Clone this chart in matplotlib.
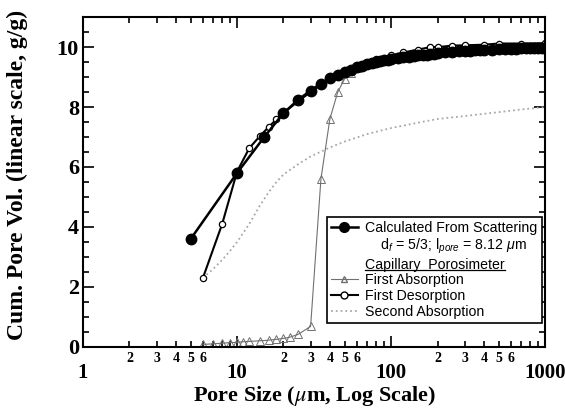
import matplotlib
matplotlib.use("Agg")
import matplotlib.pyplot as plt
from matplotlib.lines import Line2D
from matplotlib.ticker import FixedLocator, FixedFormatter, MultipleLocator

plt.rcParams['font.family'] = ['Liberation Serif', 'DejaVu Serif']
plt.rcParams['mathtext.fontset'] = 'custom'
plt.rcParams['mathtext.rm'] = 'Liberation Sans'
plt.rcParams['mathtext.it'] = 'Liberation Sans:italic'

# calculated from scattering (d_f = 5/3, l_pore = 8.12 um)
scat_x = [5, 10, 15, 20, 25, 30, 35, 40, 45, 50, 55, 60, 65, 70, 75, 80, 85, 90, 95, 100,
          110, 120, 130, 140, 150, 160, 170, 180, 190, 200, 225, 250, 275, 300, 325, 350,
          375, 400, 450, 500, 550, 600, 650, 700, 750, 800, 850, 900, 950, 1000]
scat_y = [3.6, 5.8, 7.0, 7.8, 8.25, 8.55, 8.78, 8.96, 9.07, 9.17, 9.25, 9.32, 9.37, 9.42,
          9.46, 9.5, 9.53, 9.56, 9.58, 9.6, 9.63, 9.66, 9.68, 9.7, 9.72, 9.74, 9.75, 9.77,
          9.78, 9.79, 9.82, 9.84, 9.86, 9.87, 9.88, 9.89, 9.9, 9.91, 9.92, 9.93, 9.94, 9.95,
          9.95, 9.96, 9.96, 9.97, 9.97, 9.97, 9.98, 9.98]

# capillary porosimeter
abs1_x = [6, 7, 8, 9, 10, 11, 12, 14, 16, 18, 20, 22, 25, 30, 35, 40, 45, 50, 55, 60,
          80, 100, 150, 200, 300, 500, 1000]
abs1_y = [0.08, 0.1, 0.12, 0.14, 0.15, 0.17, 0.18, 0.2, 0.22, 0.25, 0.28, 0.32, 0.42, 0.68,
          5.6, 7.6, 8.5, 8.95, 9.15, 9.3, 9.55, 9.7, 9.85, 9.9, 9.95, 10.0, 10.05]

des_x = [6, 8, 10, 12, 14, 16, 18, 20, 25, 30, 35, 40, 50, 60, 70, 80, 100, 120, 150,
         180, 200, 250, 300, 400, 500, 700, 1000]
des_y = [2.3, 4.1, 5.85, 6.63, 7.02, 7.33, 7.59, 7.8, 8.2, 8.5, 8.75, 8.95, 9.2, 9.35,
         9.48, 9.6, 9.72, 9.82, 9.92, 10.0, 10.0, 10.05, 10.06, 10.08, 10.12, 10.12, 10.13]

abs2_x = [6, 7, 8, 9, 10, 12, 14, 16, 18, 20, 25, 30, 40, 50, 70, 100, 150, 200, 300,
          500, 700, 1000]
abs2_y = [2.3, 2.6, 2.9, 3.2, 3.5, 4.1, 4.7, 5.15, 5.5, 5.75, 6.1, 6.35, 6.65, 6.85, 7.1,
          7.3, 7.48, 7.6, 7.7, 7.83, 7.92, 8.0]

fig = plt.figure(figsize=(5.65, 4.08), dpi=100)
ax = fig.add_axes([0.147, 0.150, 0.818, 0.808])

ax.plot(abs2_x, abs2_y, ':', color='#a8a8a8', lw=1.3)
ax.plot(abs1_x, abs1_y, '-', color='#707070', lw=0.8, marker='^', ms=5.5,
        mfc='none', mec='#707070', mew=0.7)
ax.plot(des_x, des_y, '-', color='black', lw=1.5, marker='o', ms=4.5,
        mfc='white', mec='black', mew=0.9)
ax.plot(scat_x, scat_y, '-', color='black', lw=1.8, marker='o', ms=7.5,
        mfc='black', mec='black')

ax.set_xscale('log')
ax.set_xlim(1, 1000)
ax.set_ylim(0, 11)

ax.xaxis.set_major_locator(FixedLocator([1, 10, 100, 1000]))
ax.xaxis.set_major_formatter(FixedFormatter(['1', '10', '100', '1000']))
minor_pos = [m * d for d in (1, 10, 100) for m in range(2, 10)]
minor_lab = [str(m) if m <= 6 else '' for d in (1, 10, 100) for m in range(2, 10)]
ax.xaxis.set_minor_locator(FixedLocator(minor_pos))
ax.xaxis.set_minor_formatter(FixedFormatter(minor_lab))
ax.yaxis.set_major_locator(MultipleLocator(2))
ax.yaxis.set_minor_locator(MultipleLocator(0.5))

ax.tick_params(which='both', direction='in', top=True, right=True, width=1.2)
ax.tick_params(which='major', length=8)
ax.tick_params(which='minor', length=4)
ax.tick_params(axis='x', which='major', pad=12, labelsize=15)
ax.tick_params(axis='x', which='minor', pad=4, labelsize=10)
ax.tick_params(axis='y', which='major', pad=3, labelsize=16)
for lab in ax.get_xticklabels(which='both') + ax.get_yticklabels():
    lab.set_fontweight('bold')
for sp in ax.spines.values():
    sp.set_linewidth(1.5)

xl = ax.set_xlabel(r'Pore Size ($\mu$m, Log Scale)', fontsize=16, fontweight='bold', labelpad=0.5)
xl.set_math_fontfamily('stix')
ax.set_ylabel('Cum. Pore Vol. (linear scale, g/g)', fontsize=17, fontweight='bold')
ax.yaxis.set_label_coords(-0.12, 0.52)

blank = Line2D([], [], linestyle='none')
handles = [
    Line2D([], [], color='black', lw=1.8, marker='o', ms=7, mfc='black'),
    blank, blank,
    Line2D([], [], color='#707070', lw=0.8, marker='^', ms=5, mfc='none', mec='#707070'),
    Line2D([], [], color='black', lw=1.5, marker='o', ms=5, mfc='white', mec='black'),
    Line2D([], [], color='#a8a8a8', lw=1.3, ls=':'),
]
labels = [
    'Calculated From Scattering',
    r'    d$_f$ = 5/3; l$_{pore}$ = 8.12 $\mu$m',
    'Capillary  Porosimeter',
    'First Absorption',
    'First Desorption',
    'Second Absorption',
]
leg = ax.legend(handles, labels, loc='lower right', bbox_to_anchor=(0.992, 0.072),
                prop={'family': 'Liberation Sans', 'size': 10.2}, frameon=True,
                fancybox=False, edgecolor='black', framealpha=1, handlelength=1.9,
                handletextpad=0.5, labelspacing=0.12, borderpad=0.3, borderaxespad=0)
leg.get_frame().set_linewidth(1.2)

# underline the "Capillary Porosimeter" heading
fig.canvas.draw()
bb = leg.get_texts()[2].get_window_extent().transformed(fig.transFigure.inverted())
fig.add_artist(Line2D([bb.x0, bb.x1], [bb.y0 + 0.003, bb.y0 + 0.003],
                      transform=fig.transFigure, color='black', lw=0.9))

fig.savefig('out.png', dpi=100)
